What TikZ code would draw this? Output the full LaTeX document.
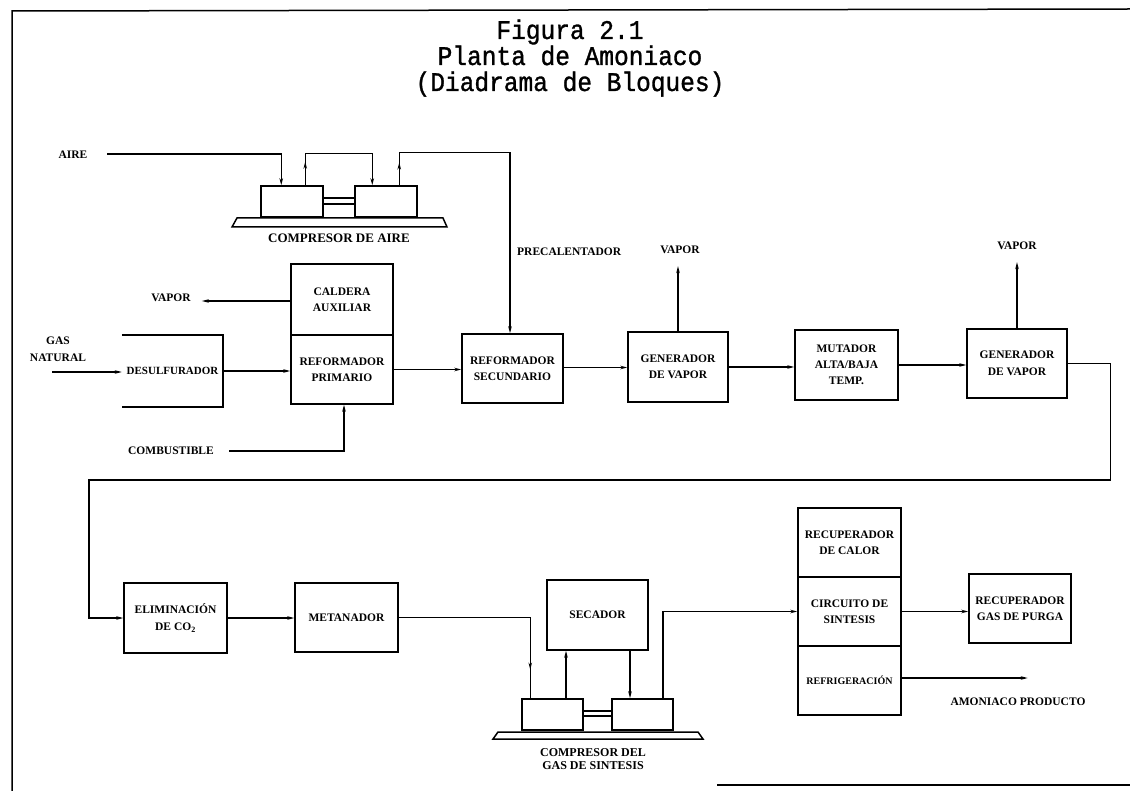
\documentclass[tikz,border=0pt]{standalone}
\usepackage{fontspec}
\usepackage{graphicx}
\setmainfont{Liberation Serif}
\newfontfamily\ttlfont[FakeBold=1.2]{Liberation Mono}
\usetikzlibrary{arrows.meta,decorations.markings,calc}
\newcommand{\ttltext}[1]{\scalebox{1}[1.1]{\ttlfont\fontsize{24.5}{30}\selectfont #1}}
\begin{document}
\begin{tikzpicture}[x=1pt,y=-1pt,
  ttl/.style={inner sep=0pt, anchor=base},
  lbl/.style={font=\bfseries\fontsize{11.5}{16.5}\selectfont, align=center, inner sep=0pt},
  blk/.style 2 args={draw, line width=1.5pt, rectangle, inner sep=0pt,
     minimum width=#1pt, minimum height=#2pt, align=center,
     font=\bfseries\fontsize{11.5}{16.5}\selectfont},
  boxline/.style={line width=1.5pt},
  flow/.style={line width=1.3pt},
  tip/.tip={Stealth[length=7pt,width=3.5pt]},
  arr/.style={flow, -tip},
  midarr/.style={postaction={decorate}, decoration={markings,
     mark=at position #1 with {\arrow{tip}}}}
]
\useasboundingbox (0,0) rectangle (1130,791);

% border
\draw[boxline] (12,791) -- (12,11) -- (1130,9);
\draw[boxline] (717,785) -- (1130,785);

% title
\node[ttl] (t1) at (570,39) {\ttltext{Figura 2.1}};
\node[ttl] (t2) at (570,65) {\ttltext{Planta de Amoniaco}};
\node[ttl] (t3) at (570,91) {\ttltext{(Diadrama de Bloques)}};

% row 1 blocks
\node[blk={102}{71}] (cald) at (342,299.5) {CALDERA\\AUXILIAR};
\node[blk={102}{69}] (refp) at (342,369.5) {REFORMADOR\\PRIMARIO};
\node[blk={101}{69}] (refs) at (512.5,368.5) {REFORMADOR\\SECUNDARIO};
\node[blk={100}{70}] (gen1) at (678,367) {GENERADOR\\DE VAPOR};
\node[blk={103}{70}, font=\bfseries\fontsize{11.5}{16}\selectfont] (mut) at (846.5,365) {MUTADOR\\ALTA/BAJA\\TEMP.};
\node[blk={100}{69}] (gen2) at (1017,363.5) {GENERADOR\\DE VAPOR};

% air compressor
\node[blk={62}{31}] (c1a) at (292,201.5) {};
\node[blk={62}{31}] (c1b) at (386,201.5) {};
\draw[flow] (c1a.east |- 0,198) -- (c1b.west |- 0,198);
\draw[flow] (c1a.east |- 0,204) -- (c1b.west |- 0,204);
\draw[boxline] (237,218) -- (443,218) -- (447,227) -- (232,227) -- cycle;
\node[lbl, font=\bfseries\fontsize{13}{15}\selectfont] (compaire) at (339,238) {COMPRESOR DE AIRE};

\node[lbl] (aire) at (73,155) {AIRE};
\coordinate (airein) at (107,154);
\draw[arr] (airein) -| ([xshift=21pt]c1a.north west);
\draw[arr, midarr=0.18] ([xshift=45pt]c1a.north west) -- ++(0,-32) -| ([xshift=18pt]c1b.north west);
\draw[arr, midarr=0.07] ([xshift=45pt]c1b.north west) -- ++(0,-33) -| ([xshift=-2.5pt]refs.north);
\node[lbl, anchor=west] (prec) at (517,252) {PRECALENTADOR};

% row 1 connections
\node[lbl] (vap0) at (171,298) {VAPOR};
\draw[arr] ([yshift=-1.5pt]cald.west) -- ([xshift=11pt,yshift=-3pt]vap0.east);

\node[lbl] (gas) at (58,349) {GAS\\NATURAL};
\node[inner sep=0pt, minimum width=101pt, minimum height=72pt,
      font=\bfseries\fontsize{11}{14}\selectfont] (desul) at (172.5,371) {DESULFURADOR};
\draw[boxline] (desul.north west) -- (desul.north east) -- (desul.south east) -- (desul.south west);
\coordinate (gasin) at (52,372);
\draw[arr] (gasin) -- (desul.west |- gasin);
\draw[arr] (desul.east) -- (desul.east -| refp.west);

\node[lbl] (comb) at (171,451) {COMBUSTIBLE};
\draw[arr] ([xshift=15pt]comb.east) -| ([xshift=2pt]refp.south);

\draw[arr] (refp.east) -- (refp.east -| refs.west);
\draw[arr] ([yshift=1pt]refs.east) -- ([yshift=1pt]refs.east -| gen1.west);
\node[lbl] (vap1) at (680,250) {VAPOR};
\draw[arr] (gen1.north) -- ([yshift=-12pt]vap1.south -| gen1.north);
\draw[arr] (gen1.east) -- (gen1.east -| mut.west);
\draw[arr] (mut.east) -- (mut.east -| gen2.west);
\node[lbl] (vap2) at (1017,246) {VAPOR};
\draw[arr] (gen2.north) -- ([yshift=-12pt]vap2.south);

% row 2
\node[blk={103}{70}] (elim) at (175.5,618) {ELIMINACIÓN\\DE CO\textsubscript{2}};
\draw[arr] (gen2.east) -- ++(43,0) |- (89,480) |- (elim.west);

\node[blk={103}{69}] (meta) at (346.5,617.5) {METANADOR};
\draw[arr] (elim.east) -- (elim.east -| meta.west);

% synthesis gas compressor
\node[blk={61}{31}] (c2a) at (552.5,714.5) {};
\node[blk={61}{31}] (c2b) at (642.5,714.5) {};
\draw[flow] (c2a.east |- 0,711) -- (c2b.west |- 0,711);
\draw[flow] (c2a.east |- 0,716) -- (c2b.west |- 0,716);
\draw[boxline] (498,732) -- (698,732) -- (703,739) -- (493,739) -- cycle;
\node[lbl, font=\bfseries\fontsize{12}{13}\selectfont] (compgas) at (593,759) {COMPRESOR DEL\\GAS DE SINTESIS};

\node[blk={101}{70}] (sec) at (597.5,615) {SECADOR};
\draw[flow, midarr=0.865] (meta.east) -| ([xshift=9pt]c2a.north west);
\draw[arr] ([xshift=13.5pt]c2a.north) -- ([xshift=-31.5pt]sec.south);
\draw[arr] ([xshift=32.5pt]sec.south) -- ([xshift=-12.5pt]c2b.north);

\node[blk={103}{69}] (recc) at (849.5,542.5) {RECUPERADOR\\DE CALOR};
\node[blk={103}{69}] (circ) at (849.5,611.5) {CIRCUITO DE\\SINTESIS};
\node[blk={103}{69}, font=\bfseries\fontsize{10}{12}\selectfont] (refr) at (849.5,680.5) {REFRIGERACIÓN};
\draw[arr] ([xshift=20.5pt]c2b.north) |- (circ.west);

\node[blk={102}{69}] (purga) at (1020,608.5) {RECUPERADOR\\GAS DE PURGA};
\draw[arr] (circ.east) -- (circ.east -| purga.west);

\node[lbl] (amon) at (1018,702) {AMONIACO PRODUCTO};
\draw[arr] ([yshift=2.5pt]refr.east) -- ++(126,0);
\end{tikzpicture}
\end{document}
